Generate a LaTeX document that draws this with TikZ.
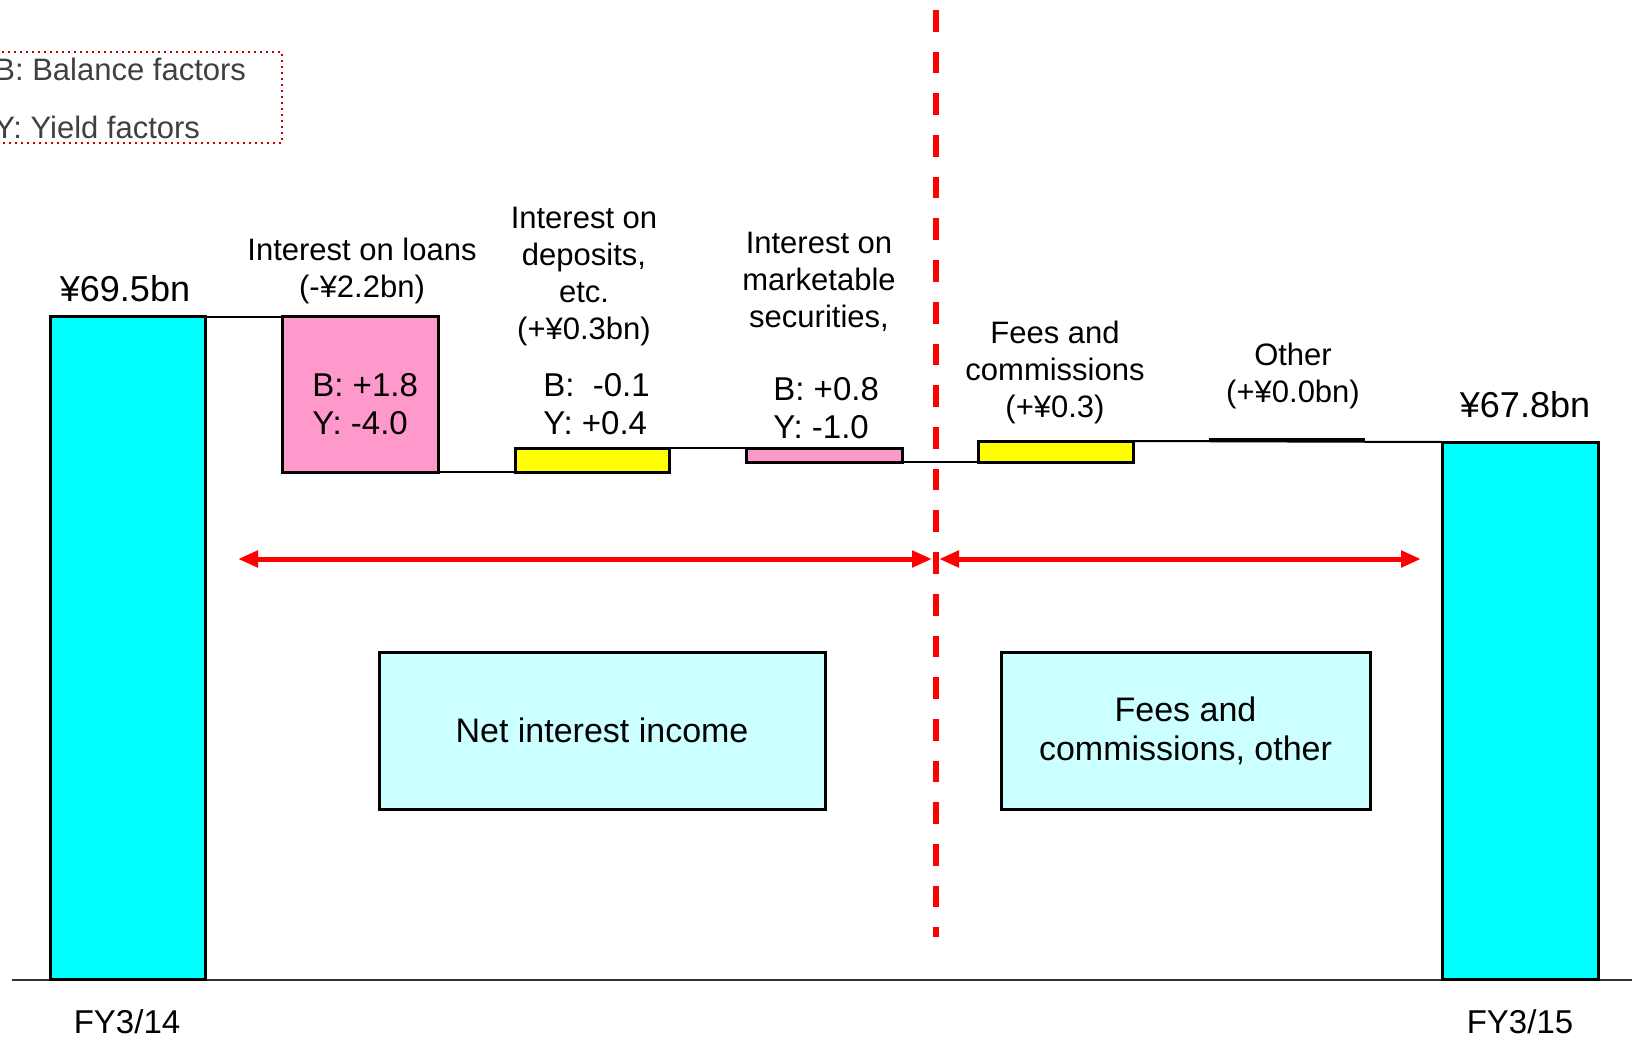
\documentclass[tikz,border=0pt]{standalone}
\usepackage{fontspec}
\setmainfont{Liberation Sans}
\usetikzlibrary{arrows.meta}
\definecolor{barcyan}{HTML}{00FFFF}
\definecolor{downpink}{HTML}{FF99CC}
\definecolor{upyellow}{HTML}{FFFF00}
\definecolor{panelcyan}{HTML}{CCFFFF}
\definecolor{legendred}{HTML}{C00000}
\definecolor{legendgray}{HTML}{404040}
\definecolor{splitred}{HTML}{FF0000}
\begin{document}
\begin{tikzpicture}[x=0.5pt,y=-0.5pt,
  block/.style={draw=black, line width=1.5pt, inner sep=0pt, outer sep=0pt, anchor=north west},
  link/.style={draw=black, line width=1pt},
  itemlabel/.style={align=center, anchor=base, inner sep=0pt, font=\fontsize{15.5}{18.5}\selectfont},
  factors/.style={align=left, anchor=base west, inner sep=0pt, font=\fontsize{16.5}{19}\selectfont},
  total/.style={anchor=base, inner sep=0pt, font=\fontsize{18}{21}\selectfont},
  period/.style={anchor=base, inner sep=0pt, font=\fontsize{16.5}{20}\selectfont},
  panel/.style={block, fill=panelcyan, align=center, font=\fontsize{17}{19.5}\selectfont},
  span/.style={draw=splitred, line width=2.5pt, {Triangle[length=10pt,width=8pt]}-{Triangle[length=10pt,width=8pt]}},
  legendtext/.style={anchor=base west, inner sep=0pt, text=legendgray, font=\fontsize{15.5}{18}\selectfont}]
\useasboundingbox (0,0) rectangle (1632,1037);

% axis
\coordinate (axL) at (12,980);
\coordinate (axR) at (1632,980);
\draw[line width=1pt, black!80] (axL) -- (axR);

% legend (its left part runs past the page edge)
\draw[legendred, dotted, line width=1pt] (-20,52) rectangle (282,143);
\node[legendtext] (legB) at (-6,81) {B: Balance factors};
\node[legendtext] (legY) at (-6,139) {Y: Yield factors};

% totals
\node[block, fill=barcyan, minimum width=77.5pt, minimum height=331pt] (start) at (50,317) {};
\node[block, fill=barcyan, minimum width=78pt, minimum height=268.5pt] (finish) at (1442,442) {};

% changes
\node[block, fill=downpink, minimum width=78pt, minimum height=77.5pt] (loans) at (282,317) {};
\node[block, fill=upyellow, minimum width=77pt, minimum height=12pt] (deposits) at (515,448) {};
\node[block, fill=downpink, minimum width=78pt, minimum height=7pt] (securities) at (746,448) {};
\node[block, fill=upyellow, minimum width=77.5pt, minimum height=10.5pt] (fees) at (978,441) {};
\coordinate (otherL) at (1209,439);
\coordinate (otherR) at (1365,439);
\draw[line width=1.5pt] (otherL) -- (otherR);

% waterfall links
\draw[link] (start.north east) -- (loans.north west);
\draw[link] (loans.south east) -- (deposits.south west);
\draw[link] (deposits.north east) -- (securities.north west);
\draw[link] (securities.south east) -- (fees.south west);
\draw[link] (fees.north east) -- (finish.north west);

% split line
\coordinate (splitT) at (936,10);
\coordinate (splitB) at (936,937);
\draw[splitred, line width=3pt, dash pattern=on 10.85pt off 10pt] (splitT) -- (splitB);

% span arrows
\coordinate (spanL) at (238,559);
\coordinate (spanM1) at (932,559);
\coordinate (spanM2) at (939,559);
\coordinate (spanR) at (1421,559);
\draw[span] (spanL) -- (spanM1);
\draw[span] (spanM2) -- (spanR);

% panels
\node[panel, minimum width=223pt, minimum height=78.5pt] (nii) at (379,652) {Net interest income};
\node[panel, minimum width=184.5pt, minimum height=78.5pt] (feepanel) at (1001,652) {Fees and\\commissions, other};

% labels (multi-line nodes sit on the baseline of their last line)
\node[total] (t69) at (125,302) {¥69.5bn};
\node[total] (t67) at (1525,417) {¥67.8bn};
\node[period] (p14) at (127,1033) {FY3/14};
\node[period] (p15) at (1520,1033) {FY3/15};

\node[itemlabel] (lLoans) at (362,298) {Interest on loans\\(-¥2.2bn)};
\node[itemlabel] (lDep) at (584,340) {Interest on\\deposits,\\etc.\\(+¥0.3bn)};
\node[itemlabel] (lSec) at (819,328) {Interest on\\marketable\\securities,};
\node[itemlabel] (lFees) at (1055,417) {Fees and\\commissions\\(+¥0.3)};
\node[itemlabel] (lOther) at (1293,402) {Other\\(+¥0.0bn)};

\node[factors] (fLoans) at (312,435) {B: +1.8\\Y: -4.0};
\node[factors] (fDep) at (543,435) {B:\ \ -0.1\\Y: +0.4};
\node[factors] (fSec) at (773,438) {B: +0.8\\Y: -1.0};
\end{tikzpicture}
\end{document}
